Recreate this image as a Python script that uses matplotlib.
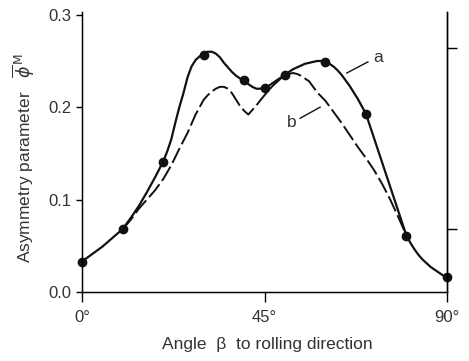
####### Asymmetry parameter vs angle to rolling direction

import numpy as np
import matplotlib.pyplot as plt

plt.rcParams['font.family'] = ['Liberation Sans', 'DejaVu Sans']
plt.rcParams['mathtext.fontset'] = 'dejavusans'

# measured points (curve a)
angle_pts = [0, 10, 20, 30, 40, 45, 50, 60, 70, 80, 90]
phi_pts = [0.033, 0.068, 0.141, 0.257, 0.229, 0.221, 0.235, 0.249, 0.193, 0.061, 0.016]

# traced curve a
angle_a = [0, 5, 10, 12, 14, 16, 18, 20, 21, 22, 23, 24, 25, 26, 27, 28, 29, 30,
           31, 32, 33, 34, 35, 36, 37, 38, 39, 40, 41, 42, 43, 44, 45, 46, 47, 48,
           49, 50, 51, 52, 53, 54, 55, 56, 57, 58, 59, 60, 61, 62, 63, 64, 65, 66,
           67, 68, 69, 70, 75, 80, 81, 82, 83, 84, 85, 86, 87, 88, 89, 90]
phi_a = [0.033, 0.049, 0.068, 0.080, 0.093, 0.108, 0.124, 0.141, 0.152, 0.165,
         0.183, 0.200, 0.215, 0.232, 0.244, 0.251, 0.255, 0.258, 0.260, 0.260,
         0.258, 0.254, 0.248, 0.243, 0.238, 0.234, 0.231, 0.229, 0.225, 0.222,
         0.220, 0.220, 0.221, 0.223, 0.226, 0.229, 0.232, 0.235, 0.238, 0.241,
         0.243, 0.245, 0.247, 0.248, 0.249, 0.250, 0.250, 0.249, 0.247, 0.244,
         0.240, 0.235, 0.229, 0.223, 0.216, 0.209, 0.201, 0.193, 0.127, 0.061,
         0.053, 0.046, 0.040, 0.035, 0.031, 0.027, 0.024, 0.021, 0.018, 0.016]

# traced curve b (dashed)
angle_b = [10, 12, 14, 16, 18, 20, 22, 24, 26, 28, 30, 31, 32, 33, 34, 35, 36,
           37, 38, 39, 40, 41, 43, 45, 47, 49, 50, 51, 52, 53, 54, 56, 58, 60,
           62, 64, 66, 68, 70, 72, 74, 76, 78, 80]
phi_b = [0.068, 0.078, 0.090, 0.100, 0.110, 0.122, 0.137, 0.155, 0.172, 0.192,
         0.208, 0.213, 0.217, 0.220, 0.222, 0.222, 0.220, 0.215, 0.208, 0.201,
         0.196, 0.192, 0.202, 0.213, 0.223, 0.231, 0.234, 0.236, 0.237, 0.236,
         0.234, 0.228, 0.216, 0.207, 0.195, 0.183, 0.170, 0.157, 0.145, 0.132,
         0.117, 0.100, 0.081, 0.061]

xticks = [0, 45, 90]
xlabels = ['0°', '45°', '90°']
yticks = [0.0, 0.1, 0.2, 0.3]
ylabels = ['0.0', '0.1', '0.2', '0.3']
right_ticks = [0.068, 0.264]

LineColor = '#111111'
TextColor = '#333333'

fig = plt.figure(figsize=(4.69, 3.61), dpi=100)
ax = fig.add_axes([82/469, 69/361, 365/469, 280/361])

ax.plot(angle_b, phi_b, color=LineColor, lw=1.4, dashes=(8.5, 2.2))
ax.plot(angle_a, phi_a, color=LineColor, lw=1.6)
ax.plot(angle_pts, phi_pts, 'o', color=LineColor, ms=6, clip_on=False)

# curve labels
ax.plot([65.3, 70.5], [0.237, 0.249], color=LineColor, lw=1)
ax.text(73.0, 0.254, 'a', fontsize=12.5, ha='center', va='center', color=TextColor)
ax.plot([53.8, 58.7], [0.188, 0.200], color=LineColor, lw=1)
ax.text(51.8, 0.183, 'b', fontsize=12.5, ha='center', va='center', color=TextColor)

ax.set_xlim(0, 90)
ax.set_ylim(0, 0.303)
ax.set_xticks(xticks, xlabels, fontsize=12)
ax.set_yticks(yticks, ylabels, fontsize=12)
ax.tick_params(axis='y', direction='out', length=4.5, width=1, pad=3, labelcolor=TextColor)
ax.tick_params(axis='x', direction='out', length=7, width=1, pad=6, labelcolor=TextColor)
ax.spines['top'].set_visible(False)
for s in ['left', 'bottom', 'right']:
    ax.spines[s].set_linewidth(1)

ax2 = ax.twinx()
ax2.set_ylim(0, 0.303)
ax2.set_yticks(right_ticks, ['', ''])
ax2.tick_params(direction='out', length=7, width=1)
ax2.spines['top'].set_visible(False)
ax2.spines['right'].set_linewidth(1)

fig.text(23.5/469, 1 - 158/361, r'Asymmetry parameter   $\overline{\phi}^{\,\mathrm{M}}$',
         rotation=90, ha='center', va='center', fontsize=12.5, color=TextColor)
fig.text(267.5/469, 1 - 345/361, 'Angle  β  to rolling direction',
         ha='center', va='center', fontsize=12.5, color=TextColor)

plt.savefig('out.png', dpi=100)
plt.close()
